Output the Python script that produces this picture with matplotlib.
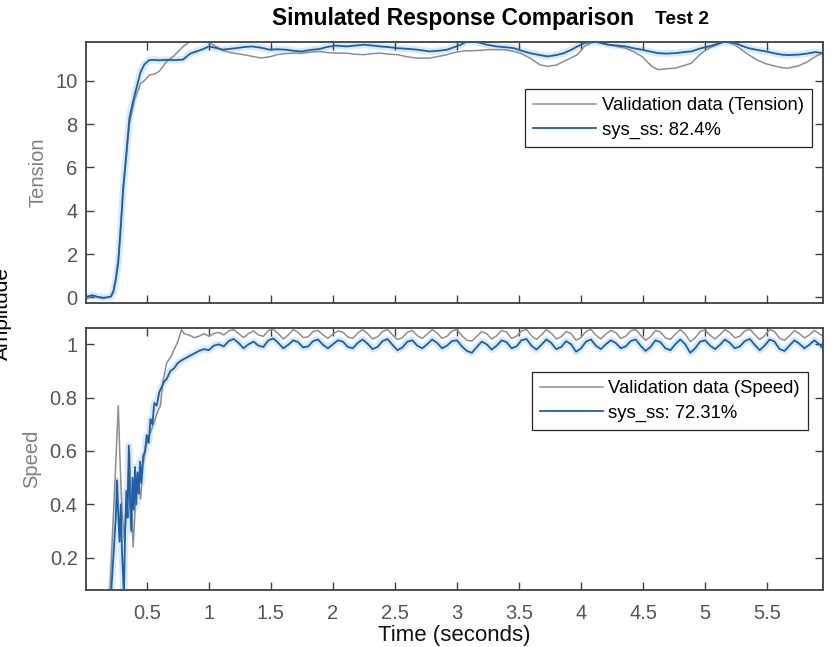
import numpy as np
import matplotlib
matplotlib.use('Agg')
import matplotlib.pyplot as plt

plt.rcParams['font.family'] = ['Liberation Sans', 'DejaVu Sans']

# ---------------- data ----------------
# Tension (top panel)
t_ten = [0.01, 0.06, 0.10, 0.15, 0.21, 0.23, 0.25, 0.27, 0.29, 0.31,
         0.33, 0.36, 0.40, 0.45, 0.48, 0.52, 0.56, 0.60, 0.66, 0.72,
         0.79, 0.85, 0.90, 0.95, 1.00, 1.05, 1.11, 1.17, 1.22, 1.28,
         1.35, 1.42, 1.49, 1.55, 1.62, 1.68, 1.75, 1.82, 1.89, 1.95,
         2.02, 2.11, 2.18, 2.25, 2.32, 2.38, 2.45, 2.52, 2.60, 2.68,
         2.78, 2.85, 2.92, 2.98, 3.03, 3.07, 3.11, 3.19, 3.24, 3.32,
         3.38, 3.46, 3.51, 3.59, 3.67, 3.73, 3.80, 3.86, 3.92, 3.97,
         4.03, 4.11, 4.16, 4.22, 4.29, 4.36, 4.42, 4.49, 4.57, 4.62,
         4.69, 4.76, 4.83, 4.89, 4.97, 5.03, 5.10, 5.16, 5.24, 5.30,
         5.35, 5.42, 5.49, 5.57, 5.62, 5.67, 5.75, 5.82, 5.89, 5.95]

ten_meas = [-0.08, 0.08, 0.00, -0.05, 0.05, 0.30, 0.90, 1.80, 3.40, 5.20,
            6.20, 8.00, 9.10, 9.87, 10.00, 10.26, 10.30, 10.43, 10.89, 11.15,
            11.56, 11.81, 11.87, 11.86, 11.75, 11.60, 11.40, 11.30, 11.25, 11.20,
            11.12, 11.05, 11.10, 11.20, 11.25, 11.27, 11.27, 11.32, 11.35, 11.30,
            11.27, 11.27, 11.22, 11.20, 11.25, 11.27, 11.22, 11.20, 11.10, 11.04,
            11.04, 11.12, 11.20, 11.30, 11.35, 11.38, 11.38, 11.40, 11.43, 11.43,
            11.43, 11.35, 11.27, 11.04, 10.73, 10.66, 10.72, 10.89, 11.05, 11.20,
            11.60, 11.81, 11.74, 11.66, 11.58, 11.50, 11.35, 11.12, 10.66, 10.51,
            10.55, 10.58, 10.70, 10.81, 11.27, 11.50, 11.66, 11.81, 11.66, 11.40,
            11.20, 10.95, 10.78, 10.66, 10.60, 10.58, 10.68, 10.85, 11.12, 11.27]

ten_sim = [0.02, 0.10, 0.03, -0.02, 0.03, 0.25, 0.80, 1.60, 3.20, 5.00,
           6.30, 8.30, 9.30, 10.40, 10.75, 10.95, 10.96, 10.94, 10.96, 10.95,
           10.97, 11.25, 11.35, 11.45, 11.58, 11.52, 11.43, 11.47, 11.50, 11.55,
           11.58, 11.52, 11.43, 11.45, 11.43, 11.38, 11.35, 11.42, 11.46, 11.55,
           11.62, 11.58, 11.62, 11.66, 11.62, 11.58, 11.55, 11.50, 11.47, 11.43,
           11.35, 11.38, 11.43, 11.55, 11.66, 11.78, 11.84, 11.74, 11.66, 11.58,
           11.55, 11.50, 11.40, 11.27, 11.18, 11.12, 11.18, 11.27, 11.42, 11.58,
           11.74, 11.81, 11.74, 11.66, 11.62, 11.58, 11.50, 11.43, 11.33, 11.27,
           11.25, 11.27, 11.32, 11.35, 11.50, 11.58, 11.70, 11.81, 11.74, 11.60,
           11.50, 11.42, 11.35, 11.25, 11.20, 11.18, 11.20, 11.25, 11.32, 11.27]

# Speed (bottom panel) - start-up part
t_spd_meas0 = [0.20, 0.24, 0.27, 0.285, 0.30, 0.32, 0.34, 0.36, 0.375, 0.39,
               0.41, 0.43, 0.45, 0.47, 0.50, 0.53, 0.56, 0.59, 0.61, 0.63,
               0.66, 0.69, 0.72, 0.75, 0.78, 0.80]
spd_meas0 = [0.05, 0.45, 0.77, 0.55, 0.38, 0.26, 0.42, 0.60, 0.40, 0.24,
             0.42, 0.50, 0.42, 0.55, 0.63, 0.67, 0.71, 0.75, 0.77, 0.86,
             0.93, 0.95, 0.98, 1.01, 1.055, 1.04]

t_spd_sim0 = [0.21, 0.23, 0.25, 0.26, 0.27, 0.28, 0.29, 0.30, 0.31, 0.315,
              0.325, 0.335, 0.345, 0.355, 0.365, 0.375, 0.385, 0.395, 0.405, 0.415,
              0.425, 0.435, 0.445, 0.455, 0.47, 0.485, 0.50, 0.515, 0.53, 0.545,
              0.56, 0.58, 0.60, 0.62, 0.64, 0.66, 0.69, 0.72, 0.75, 0.78, 0.80]
spd_sim0 = [0.05, 0.20, 0.35, 0.49, 0.36, 0.26, 0.40, 0.22, 0.12, 0.05,
            0.30, 0.45, 0.35, 0.62, 0.40, 0.30, 0.50, 0.38, 0.54, 0.40,
            0.52, 0.44, 0.56, 0.48, 0.58, 0.60, 0.66, 0.63, 0.72, 0.70,
            0.78, 0.77, 0.82, 0.84, 0.86, 0.87, 0.90, 0.91, 0.93, 0.94, 0.945]

# Speed - steady part, sampled every 0.04 s from 0.84 s, plus the last point
t_spd_steady = list(np.round(np.arange(0.84, 5.93, 0.04), 2)) + [5.95]
spd_meas1 = [1.035, 1.025, 1.030, 1.040, 1.030,
             1.040, 1.045, 1.035, 1.050, 1.055,
             1.040, 1.025, 1.040, 1.050, 1.035,
             1.030, 1.052, 1.056, 1.040, 1.020,
             1.035, 1.055, 1.045, 1.025, 1.028,
             1.048, 1.052, 1.035, 1.022, 1.038,
             1.050, 1.046, 1.028, 1.022, 1.042,
             1.055, 1.040, 1.020, 1.028, 1.048,
             1.056, 1.035, 1.018, 1.025, 1.045,
             1.052, 1.032, 1.022, 1.038, 1.055,
             1.042, 1.022, 1.030, 1.050, 1.055,
             1.032, 1.015, 1.012, 1.030, 1.048,
             1.040, 1.020, 1.032, 1.052, 1.046,
             1.022, 1.030, 1.050, 1.056, 1.032,
             1.018, 1.035, 1.055, 1.042, 1.020,
             1.028, 1.048, 1.040, 1.015, 1.025,
             1.048, 1.056, 1.034, 1.020, 1.038,
             1.052, 1.044, 1.022, 1.030, 1.050,
             1.056, 1.034, 1.015, 1.028, 1.052,
             1.046, 1.024, 1.018, 1.038, 1.055,
             1.038, 1.010, 1.024, 1.048, 1.054,
             1.034, 1.020, 1.036, 1.055, 1.044,
             1.024, 1.030, 1.050, 1.057, 1.036,
             1.018, 1.032, 1.055, 1.048, 1.022,
             1.015, 1.032, 1.052, 1.040, 1.024,
             1.035, 1.052, 1.040,
             1.030]
spd_sim1 = [0.955, 0.965, 0.975, 0.982, 0.978,
            0.995, 1.000, 0.992, 1.012, 1.020,
            1.005, 0.985, 1.000, 1.010, 0.995,
            0.990, 1.015, 1.022, 1.005, 0.985,
            0.998, 1.015, 1.008, 0.988, 0.992,
            1.012, 1.018, 0.998, 0.985, 1.000,
            1.015, 1.010, 0.990, 0.985, 1.005,
            1.018, 1.002, 0.982, 0.990, 1.012,
            1.020, 0.998, 0.978, 0.988, 1.010,
            1.015, 0.995, 0.985, 1.000, 1.018,
            1.005, 0.985, 0.995, 1.012, 1.015,
            0.992, 0.975, 0.968, 0.990, 1.010,
            1.000, 0.980, 0.995, 1.015, 1.008,
            0.985, 0.992, 1.015, 1.020, 0.995,
            0.980, 0.998, 1.018, 1.005, 0.982,
            0.990, 1.012, 1.000, 0.972, 0.985,
            1.010, 1.018, 0.995, 0.982, 1.000,
            1.015, 1.005, 0.985, 0.992, 1.012,
            1.018, 0.995, 0.975, 0.990, 1.015,
            1.008, 0.985, 0.978, 1.000, 1.018,
            1.000, 0.968, 0.985, 1.010, 1.015,
            0.995, 0.982, 0.998, 1.018, 1.005,
            0.985, 0.992, 1.012, 1.020, 0.998,
            0.978, 0.995, 1.018, 1.010, 0.982,
            0.975, 0.995, 1.015, 1.002, 0.985,
            0.998, 1.015, 1.000,
            0.985]

t_spd_meas = t_spd_meas0 + t_spd_steady
spd_meas = spd_meas0 + spd_meas1
t_spd_sim = t_spd_sim0 + t_spd_steady
spd_sim = spd_sim0 + spd_sim1

xticks = [0.5, 1, 1.5, 2, 2.5, 3, 3.5, 4, 4.5, 5, 5.5]
xtick_labels = ['0.5', '1', '1.5', '2', '2.5', '3', '3.5', '4', '4.5', '5', '5.5']

# ---------------- styling ----------------
c_meas = '#8e8e8e'
c_sim = '#1f5fa6'
c_halo = '#d6eaf8'
c_axis = '#404040'
c_tick = '#555555'
tick_fs = 14.5
legend_fs = 13.3

fig = plt.figure(figsize=(8.36, 6.47), dpi=100)
ax1 = fig.add_axes([0.1029, 0.5317, 0.8815, 0.4039])
ax2 = fig.add_axes([0.1029, 0.0886, 0.8815, 0.4040])


def style_axis(ax):
    for s in ax.spines.values():
        s.set_color(c_axis)
        s.set_linewidth(1.3)
    ax.tick_params(direction='in', top=True, right=True, length=6, width=1,
                   color=c_axis, labelcolor=c_tick, labelsize=tick_fs)
    ax.tick_params(axis='x', pad=10)
    ax.tick_params(axis='y', pad=6)
    ax.set_xlim(0.01, 5.95)
    ax.set_xticks(xticks)


def add_legend(ax, anchor):
    leg = ax.legend(loc='upper right', bbox_to_anchor=anchor, borderaxespad=0,
                    fontsize=legend_fs, fancybox=False, framealpha=1,
                    edgecolor='#262626', handlelength=3.4, handletextpad=0.3,
                    borderpad=0.45, labelspacing=0.4)
    leg.get_frame().set_linewidth(0.9)
    return leg


# top: tension
ax1.plot(t_ten, ten_sim, color=c_halo, lw=5, solid_capstyle='round', zorder=1)
ax1.plot(t_ten, ten_meas, color=c_meas, lw=1.1, zorder=2, label='Validation data (Tension)')
ax1.plot(t_ten, ten_sim, color=c_sim, lw=1.3, zorder=3, label='sys_ss: 82.4%')
style_axis(ax1)
ax1.set_ylim(-0.26, 11.8)
ax1.set_yticks([0, 2, 4, 6, 8, 10])
ax1.set_xticklabels([])
ax1.set_ylabel('Tension', color='#7f7f7f', fontsize=14.5, labelpad=6)
add_legend(ax1, (0.985, 0.819))

# bottom: speed
ax2.plot(t_spd_sim, spd_sim, color=c_halo, lw=5, solid_capstyle='round', zorder=1)
ax2.plot(t_spd_meas, spd_meas, color=c_meas, lw=1.1, zorder=2, label='Validation data (Speed)')
ax2.plot(t_spd_sim, spd_sim, color=c_sim, lw=1.3, zorder=3, label='sys_ss: 72.31%')
style_axis(ax2)
ax2.set_ylim(0.08, 1.06)
ax2.set_yticks([0.2, 0.4, 0.6, 0.8, 1])
ax2.set_yticklabels(['0.2', '0.4', '0.6', '0.8', '1'])
ax2.set_xticklabels(xtick_labels)
ax2.set_ylabel('Speed', color='#7f7f7f', fontsize=14.5, labelpad=6)
ax2.set_xlabel('Time (seconds)', fontsize=16, color='#111111', labelpad=1.5)
add_legend(ax2, (0.98, 0.833))

# titles and shared label
fig.text(272 / 836, 1 - 19 / 647, 'Simulated Response Comparison', fontsize=16.4,
         fontweight='bold', ha='left', va='center')
fig.text(655 / 836, 1 - 19 / 647, 'Test 2', fontsize=13.8,
         fontweight='bold', ha='left', va='center')
fig.text(0.003, 0.515, 'Amplitude', rotation=90, fontsize=15,
         ha='center', va='center')

fig.savefig('out.png', dpi=100)
